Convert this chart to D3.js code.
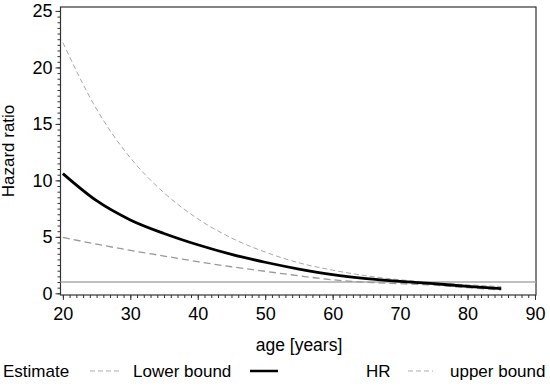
<!DOCTYPE html>
<html>
<head>
<meta charset="utf-8">
<script src="https://cdn.jsdelivr.net/npm/d3@7"></script>
<style>
    body { margin: 0; background: #fff; }
    svg { font-family: "Liberation Sans", Arial, sans-serif; }
</style>
</head>
<body>
<svg id="chart" width="550" height="386"></svg>
<script>
// values
const ages = [20, 25, 30, 35, 40, 45, 50, 55, 60, 65, 70, 75, 80, 85];
const hrEstimate = [10.6, 8.2, 6.5, 5.3, 4.3, 3.45, 2.75, 2.15, 1.65, 1.3, 1.05, 0.85, 0.62, 0.42];
const upperBound = [22.2, 16.3, 12.0, 8.9, 6.6, 4.9, 3.65, 2.7, 2.05, 1.55, 1.2, 0.95, 0.75, 0.6];
const lowerBound = [4.95, 4.35, 3.8, 3.3, 2.8, 2.35, 1.95, 1.55, 1.2, 0.98, 0.85, 0.72, 0.5, 0.3];
const xTicks = [20, 30, 40, 50, 60, 70, 80, 90];
const yTicks = [0, 5, 10, 15, 20, 25];
const refLine = 1;

const svg = d3.select("#chart");

const x = d3.scaleLinear().domain([19.65, 90.15]).range([60.5, 536]);
const y = d3.scaleLinear().domain([-0.15, 25.35]).range([295, 7]);

// frame
svg.append("rect")
    .attr("x", x.range()[0])
    .attr("y", y.range()[1])
    .attr("width", x.range()[1] - x.range()[0])
    .attr("height", y.range()[0] - y.range()[1])
    .attr("fill", "none")
    .attr("stroke", "#333")
    .attr("stroke-width", 1.2);

// minor ticks
const xMinor = d3.range(20, 91, 1);
const yMinor = d3.range(0, 25.01, 0.5);

const xAxis = svg.append("g").attr("transform", `translate(0,${y.range()[0]})`);
xAxis.call(d3.axisBottom(x).tickValues(xMinor).tickSize(3).tickFormat(""))
    .call(g => g.select(".domain").remove());
xAxis.append("g")
    .call(d3.axisBottom(x).tickValues(xTicks).tickSize(5).tickPadding(7).tickFormat(d3.format("d")))
    .call(g => g.select(".domain").remove())
    .selectAll("text")
    .attr("font-size", 18)
    .attr("fill", "#000")
    .attr("font-family", "Liberation Sans, Arial, sans-serif");
xAxis.selectAll("line").attr("stroke", "#333");

const yAxis = svg.append("g").attr("transform", `translate(${x.range()[0]},0)`);
yAxis.call(d3.axisLeft(y).tickValues(yMinor).tickSize(3).tickFormat(""))
    .call(g => g.select(".domain").remove());
yAxis.append("g")
    .call(d3.axisLeft(y).tickValues(yTicks).tickSize(5).tickPadding(3).tickFormat(d3.format("d")))
    .call(g => g.select(".domain").remove())
    .selectAll("text")
    .attr("font-size", 18)
    .attr("fill", "#000")
    .attr("font-family", "Liberation Sans, Arial, sans-serif");
yAxis.selectAll("line").attr("stroke", "#333");

// reference line at HR = 1
svg.append("line")
    .attr("x1", x.range()[0])
    .attr("x2", x.range()[1])
    .attr("y1", y(refLine))
    .attr("y2", y(refLine))
    .attr("stroke", "#aaa")
    .attr("stroke-width", 1.5);

const line = vals => d3.line()
    .x((d, i) => x(ages[i]))
    .y(d => y(d))
    .curve(d3.curveMonotoneX)(vals);

svg.append("path")
    .attr("d", line(upperBound))
    .attr("fill", "none")
    .attr("stroke", "#a8a8a8")
    .attr("stroke-width", 1)
    .attr("stroke-dasharray", "5,3");

svg.append("path")
    .attr("d", line(lowerBound))
    .attr("fill", "none")
    .attr("stroke", "#999")
    .attr("stroke-width", 1.3)
    .attr("stroke-dasharray", "7,4");

svg.append("path")
    .attr("d", line(hrEstimate))
    .attr("fill", "none")
    .attr("stroke", "#000")
    .attr("stroke-width", 2.8);

// axis titles
svg.append("text")
    .attr("x", 299)
    .attr("y", 351)
    .attr("text-anchor", "middle")
    .attr("font-size", 17.5)
    .text("age [years]");

svg.append("text")
    .attr("transform", "translate(14,151) rotate(-90)")
    .attr("text-anchor", "middle")
    .attr("font-size", 17)
    .text("Hazard ratio");

// legend (as laid out in the original)
const legendY = 377;
const legendTexts = [
    { label: "Estimate", x: 3 },
    { label: "Lower bound", x: 133 },
    { label: "HR", x: 366 },
    { label: "upper bound", x: 450 }
];
svg.selectAll(".leg-text")
    .data(legendTexts)
    .enter()
    .append("text")
    .attr("class", "leg-text")
    .attr("x", d => d.x)
    .attr("y", legendY)
    .attr("font-size", 17)
    .text(d => d.label);

const legendSymbols = [
    { x1: 90, x2: 120, stroke: "#aaa", width: 1, dash: "5,3" },
    { x1: 250, x2: 278, stroke: "#000", width: 2.5, dash: null },
    { x1: 408, x2: 433, stroke: "#aaa", width: 1, dash: "5,3" }
];
svg.selectAll(".leg-sym")
    .data(legendSymbols)
    .enter()
    .append("line")
    .attr("class", "leg-sym")
    .attr("x1", d => d.x1)
    .attr("x2", d => d.x2)
    .attr("y1", legendY - 6)
    .attr("y2", legendY - 6)
    .attr("stroke", d => d.stroke)
    .attr("stroke-width", d => d.width)
    .attr("stroke-dasharray", d => d.dash);
</script>
</body>
</html>
